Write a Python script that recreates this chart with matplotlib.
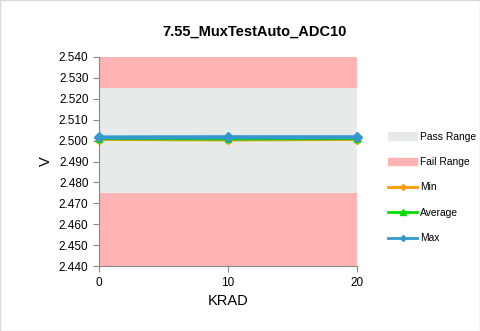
import matplotlib.pyplot as plt
from matplotlib.patches import Patch
from matplotlib.lines import Line2D

plt.rcParams['font.family'] = ['Liberation Sans', 'DejaVu Sans']

# Data
krad = [0, 10, 20]
v_min = [2.5005, 2.5003, 2.5005]
v_avg = [2.5009, 2.5007, 2.5009]
v_max = [2.5015, 2.5016, 2.5016]
pass_lo, pass_hi = 2.475, 2.525
y_lo, y_hi = 2.440, 2.540
y_ticks = [2.440, 2.450, 2.460, 2.470, 2.480, 2.490, 2.500, 2.510, 2.520, 2.530, 2.540]

fig = plt.figure(figsize=(4.8, 3.31), dpi=100)
ax = fig.add_axes([0.206, 0.196, 0.538, 0.632])

# Pass / fail bands
ax.fill_between(krad, y_lo, pass_lo, color='#ffb3b3', linewidth=0)
ax.fill_between(krad, pass_lo, pass_hi, color='#e6ebea', linewidth=0)
ax.fill_between(krad, pass_hi, y_hi, color='#ffb3b3', linewidth=0)

ax.plot(krad, v_min, color='#ff9900', marker='D', markersize=4, linewidth=2, clip_on=False)
ax.plot(krad, v_avg, color='#00dd00', marker='^', markersize=5, linewidth=2, clip_on=False)
ax.plot(krad, v_max, color='#3399cc', marker='D', markersize=5, linewidth=3, clip_on=False)

ax.set_xlim(0, 20)
ax.set_ylim(y_lo, y_hi)
ax.set_xticks(krad)
ax.set_yticks(y_ticks)
ax.set_yticklabels([f'{t:.3f}' for t in y_ticks])
ax.tick_params(labelsize=8.5, direction='out', length=4, color='#888888')
for s in ['top', 'right']:
    ax.spines[s].set_visible(False)
for s in ['left', 'bottom']:
    ax.spines[s].set_color('#888888')

ax.set_xlabel('KRAD', fontsize=10.5)
ax.set_ylabel('V', fontsize=10.5)
fig.text(0.53, 0.905, '7.55_MuxTestAuto_ADC10', fontsize=10.5, fontweight='bold',
         ha='center', va='center')

handles = [
    Patch(color='#e6ebea', label='Pass Range'),
    Patch(color='#ffb3b3', label='Fail Range'),
    Line2D([], [], color='#ff9900', marker='D', markersize=3, linewidth=2, label='Min'),
    Line2D([], [], color='#00dd00', marker='^', markersize=4, linewidth=2, label='Average'),
    Line2D([], [], color='#3399cc', marker='D', markersize=3, linewidth=2, label='Max'),
]
fig.legend(handles=handles, loc='upper left', bbox_to_anchor=(0.80, 0.615),
           frameon=False, fontsize=7.4, labelspacing=1.5, handlelength=2.8,
           handletextpad=0.3, borderaxespad=0)

fig.patches.append(plt.Rectangle((0, 0), 1, 1, transform=fig.transFigure,
                                 fill=False, edgecolor='#d9d9d9', linewidth=1))

fig.savefig('out.png', dpi=100)
